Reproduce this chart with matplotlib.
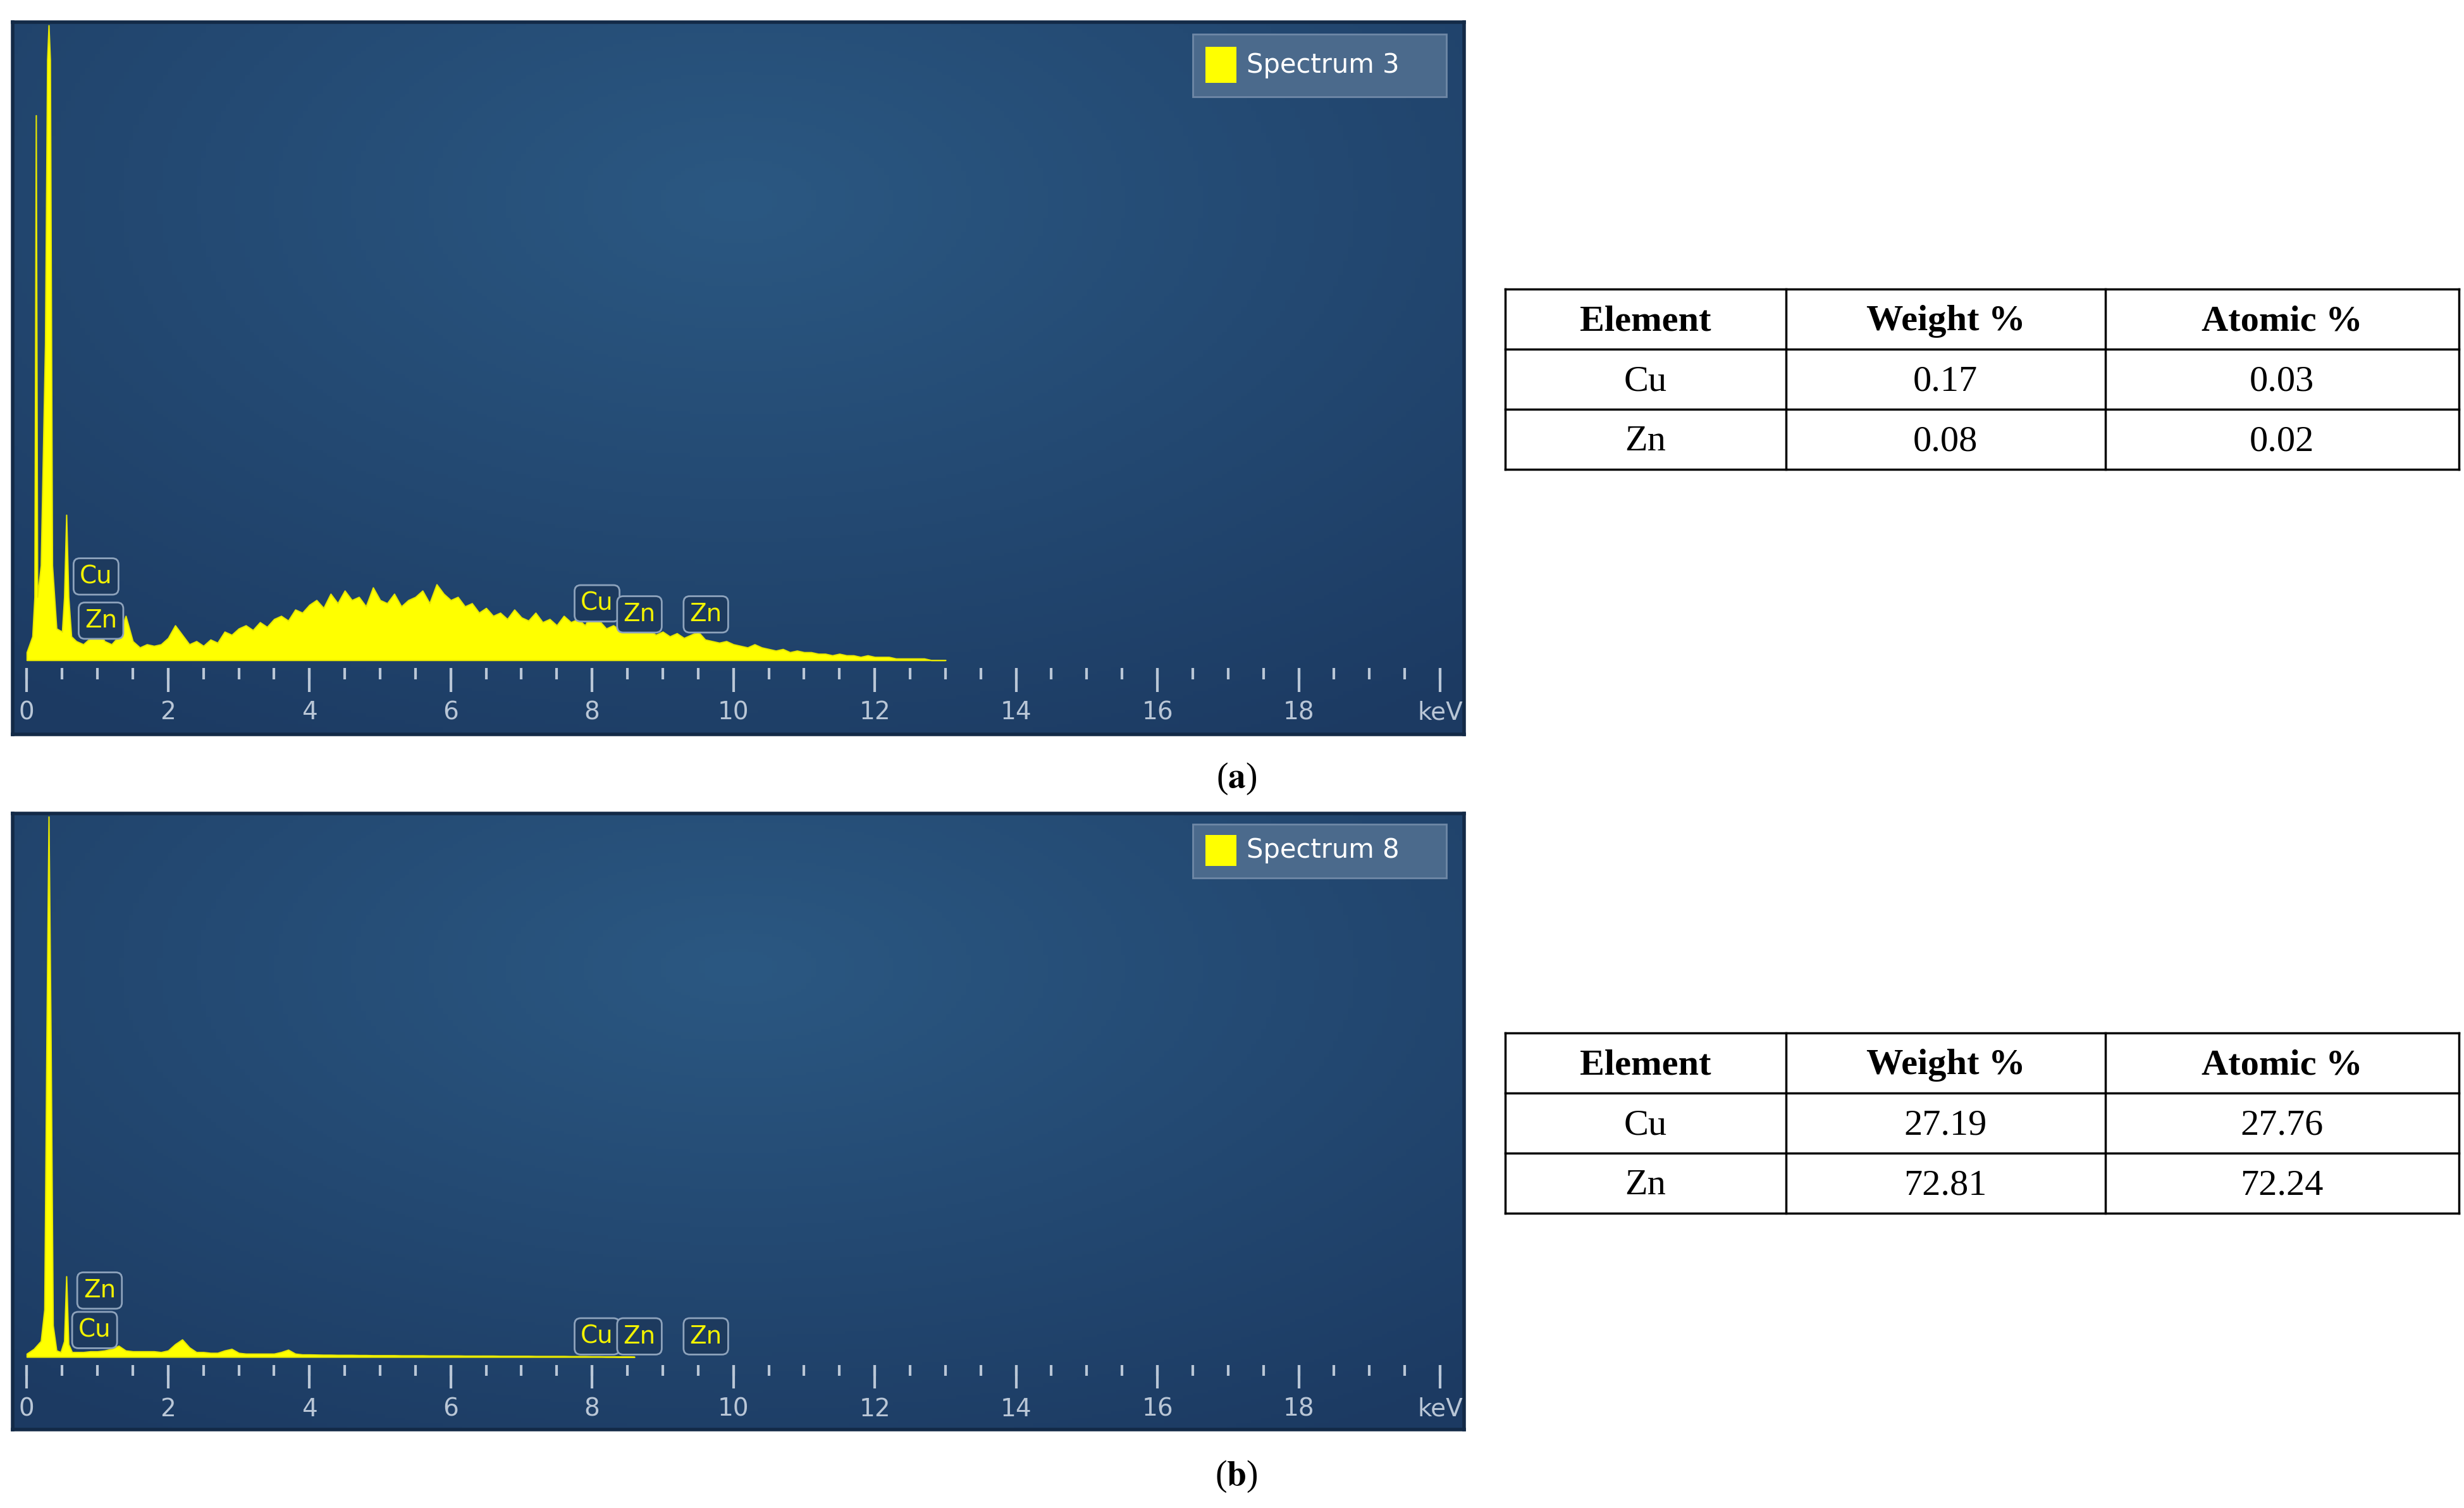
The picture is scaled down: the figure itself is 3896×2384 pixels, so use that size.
import numpy as np
import matplotlib
matplotlib.use("Agg")
import matplotlib.pyplot as plt
from matplotlib.patches import Rectangle

plt.rcParams['mathtext.fontset'] = 'stix'

# ---- data (heights, arbitrary counts) ----
low_e_a = [0, 0.08, 0.11, 0.13, 0.15, 0.2, 0.26, 0.29, 0.31, 0.33, 0.36, 0.42, 0.5, 0.53, 0.56, 0.59, 0.63]
low_c_a = [5, 15, 40, 345, 40, 60, 200, 380, 402, 380, 60, 20, 18, 40, 92, 40, 15]
# counts from 0.7 keV in 0.1 keV steps
cont_a = [12, 10, 14, 20, 12, 10, 15, 28, 12, 8, 10, 9, 10, 14, 22, 16, 10, 12, 9, 13,
          11, 18, 16, 20, 22, 19, 24, 21, 26, 28, 25, 32, 30, 35, 38, 33, 42, 36, 44, 38,
          40, 34, 46, 38, 36, 42, 34, 38, 40, 44, 36, 48, 42, 38, 40, 34, 36, 30, 33, 28,
          30, 26, 32, 27, 25, 30, 24, 26, 22, 28, 24, 26, 22, 30, 25, 20, 22, 19, 21, 24,
          18, 20, 16, 18, 15, 17, 14, 16, 18, 13, 12, 11, 12, 10, 9, 8, 10, 8, 7, 6,
          7, 5, 6, 5, 5, 4, 4, 3, 4, 3, 3, 2, 3, 2, 2, 2, 1, 1, 1, 1, 1, 0, 0, 0]

low_e_b = [0, 0.1, 0.2, 0.25, 0.28, 0.31, 0.34, 0.37, 0.42, 0.48, 0.53, 0.56, 0.59, 0.64]
low_c_b = [2, 5, 10, 30, 200, 342, 200, 20, 4, 3, 10, 51, 8, 3]
cont_b = [3, 3, 3.5, 3.5, 4, 5, 7, 4, 3.5, 3.5, 3.5, 3.5, 3, 4, 8, 11, 6, 3, 3, 2.5,
          2.5, 4, 5, 2.5, 2, 2, 2, 2, 2, 3, 4.5, 2, 1.5, 1.5, 1.4, 1.3, 1.3, 1.2, 1.2, 1.2,
          1.1, 1.1, 1.0, 1.0, 1.0, 1.0, 0.9, 0.9, 0.9, 0.9, 0.8, 0.8, 0.8, 0.8, 0.8, 0.7, 0.7, 0.7, 0.7, 0.7,
          0.6, 0.6, 0.6, 0.6, 0.6, 0.5, 0.5, 0.5, 0.5, 0.5, 0.4, 0.4, 0.4, 0.3, 0.3, 0.2, 0.2, 0.1, 0.1, 0]

peaks_a = [("Cu", 0.98, 53), ("Zn", 1.05, 25), ("Cu", 8.07, 36), ("Zn", 8.67, 29), ("Zn", 9.61, 29)]
peaks_b = [("Zn", 1.03, 42), ("Cu", 0.96, 17), ("Cu", 8.07, 13), ("Zn", 8.67, 13), ("Zn", 9.61, 13)]

elements = ["Cu", "Zn"]
weight_a = ["0.17", "0.08"]
atomic_a = ["0.03", "0.02"]
weight_b = ["27.19", "72.81"]
atomic_b = ["27.76", "72.24"]

W, H = 3896, 2384
fig = plt.figure(figsize=(W / 100, H / 100), dpi=100)
fig.patch.set_facecolor("white")

tick_col = "#b9c6d6"
narrow = ["Liberation Sans Narrow", "DejaVu Sans"]


def panel(top, bottom, low_e, low_c, cont, ylim, peaks, name):
    left, right = 20, 2315
    ax = fig.add_axes([left / W, 1 - bottom / H, (right - left) / W, (bottom - top) / H])
    # background gradient
    yy, xx = np.mgrid[0:1:200j, 0:1:300j]
    d = np.sqrt(((xx - 0.5) / 0.8) ** 2 + ((yy - 0.25) / 0.9) ** 2)
    c0 = np.array([43, 88, 130]) / 255
    c1 = np.array([28, 58, 98]) / 255
    img = c0 + (c1 - c0) * np.clip(d, 0, 1)[..., None]
    ax.imshow(img, extent=[0, 1, 0, 1], transform=ax.transAxes, aspect="auto", zorder=0)
    e = np.concatenate([low_e, 0.7 + 0.1 * np.arange(len(cont))])
    c = np.concatenate([low_c, cont])
    ax.fill_between(e, 0, c, color="#ffff00", lw=1.5, edgecolor="#e8e800", zorder=2)
    ax.set_xlim(-0.2, 20.34)
    ax.set_ylim(*ylim)
    # tick marks
    minor = np.arange(0, 20.01, 0.5)
    major = np.arange(0, 20.01, 2)
    ax.vlines(minor, -12, -5, color=tick_col, lw=3, zorder=3)
    ax.vlines(major, -20, -5, color=tick_col, lw=3, zorder=3)
    for m in major[:-1]:
        ax.text(m, -33, f"{m:g}", color=tick_col, ha="center", va="center",
                fontsize=28, family=narrow)
    ax.text(20.0, -33, "keV", color=tick_col, ha="center", va="center", fontsize=28, family=narrow)
    for lab, x, y in peaks:
        ax.text(x, y, lab, color="#f2f200", ha="center", va="center", fontsize=28, family=narrow,
                zorder=4, bbox=dict(boxstyle="round,pad=0.25", fc="#1d3a5e", ec="#8ea3bc", lw=2))
    # legend box
    ax.add_patch(Rectangle((0.813, 0.895), 0.175, 0.088, transform=ax.transAxes,
                           fc="#4b6a8c", ec="#6f88a6", lw=2, zorder=4))
    ax.add_patch(Rectangle((0.822, 0.915), 0.021, 0.05, transform=ax.transAxes,
                           fc="#ffff00", ec="none", zorder=5))
    ax.text(0.85, 0.94, name, transform=ax.transAxes, color="white", fontsize=30,
            family=narrow, va="center", zorder=5)
    ax.set_xticks([])
    ax.set_yticks([])
    for s in ax.spines.values():
        s.set_color("#132a47")
        s.set_linewidth(4)


panel(35, 1161, low_e_a, low_c_a, cont_a, (-47, 404), peaks_a, "Spectrum 3")
panel(1286, 2260, low_e_b, low_c_b, cont_b, (-46, 344), peaks_b, "Spectrum 8")

# overlay for tables and captions, in pixel coordinates
ov = fig.add_axes([0, 0, 1, 1])
ov.set_xlim(0, W)
ov.set_ylim(H, 0)
ov.axis("off")
ov.patch.set_alpha(0)

s = 2.497
col_x = [953 * s, 1131 * s, 1333 * s, 1557 * s]


def table(y0, weights, atomics):
    rows = [y0 * s, (y0 + 38) * s, (y0 + 76) * s, (y0 + 114) * s]
    for y in rows:
        ov.plot([col_x[0], col_x[-1]], [y, y], color="black", lw=2.5)
    for x in col_x:
        ov.plot([x, x], [rows[0], rows[-1]], color="black", lw=2.5)
    cells = [["Element", "Weight %", "Atomic %"]] + [[el, w, a] for el, w, a in zip(elements, weights, atomics)]
    for r, row in enumerate(cells):
        for ci, txt in enumerate(row):
            ov.text((col_x[ci] + col_x[ci + 1]) / 2, (rows[r] + rows[r + 1]) / 2 + 4, txt,
                    ha="center", va="center", fontsize=42, family="Liberation Serif",
                    fontweight="bold" if r == 0 else "normal")


table(183, weight_a, atomic_a)
table(654, weight_b, atomic_b)

ov.text(783 * s, 493 * s, r"($\mathbf{a}$)", ha="center", va="center", fontsize=40, family="Liberation Serif")
ov.text(783 * s, 935 * s, r"($\mathbf{b}$)", ha="center", va="center", fontsize=40, family="Liberation Serif")

fig.savefig("out.png", dpi=100)
